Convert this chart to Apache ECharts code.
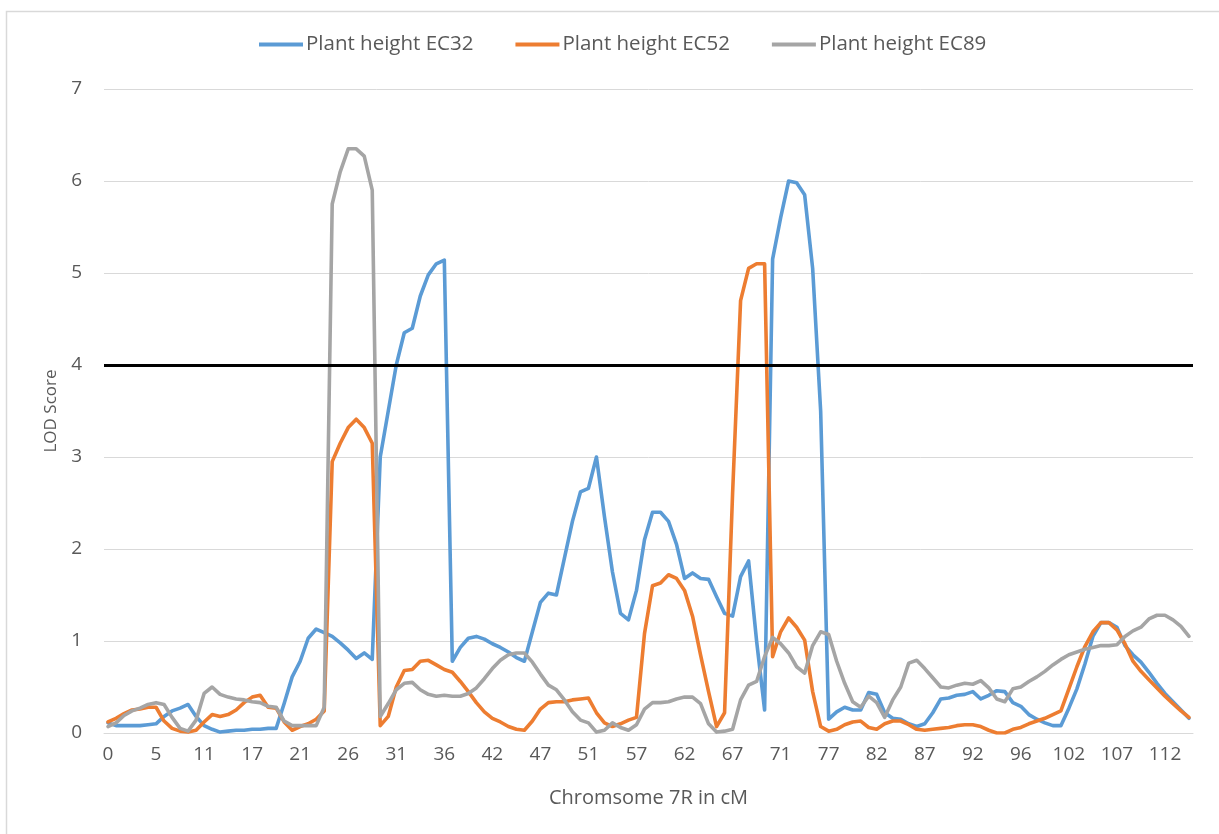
<!DOCTYPE html>
<html>
<head>
<meta charset="utf-8">
<script src="https://cdn.jsdelivr.net/npm/echarts@6/dist/echarts.min.js"></script>
<style>
html,body{margin:0;padding:0;background:#fff;}
#chart{width:1219px;height:834px;}
</style>
</head>
<body>
<div id="chart"></div>
<script>
// Category labels: marker positions on chromosome 7R (cM); every 6th is shown
const positions = [
  0,1,2,3,3,4,
  5,6,7,8,9,10,
  11,12,13,14,15,16,
  17,18,18,19,20,20,
  21,22,23,23,24,25,
  26,27,28,29,29,30,
  31,32,33,33,34,35,
  36,37,38,39,40,41,
  42,43,44,45,45,46,
  47,48,48,49,50,50,
  51,52,53,54,55,56,
  57,58,59,60,60,61,
  62,63,64,65,65,66,
  67,68,68,69,70,70,
  71,72,73,74,75,76,
  77,78,79,80,80,81,
  82,83,84,85,85,86,
  87,88,89,90,90,91,
  92,93,93,94,95,95,
  96,97,98,99,100,101,
  102,103,104,105,105,106,
  107,108,109,110,110,111,
  112,113,114,115
];

const ec32 = [
  0.11,0.08,0.08,0.08,0.08,0.09,
  0.10,0.18,0.24,0.27,0.31,0.18,
  0.08,0.04,0.01,0.02,0.03,0.03,
  0.04,0.04,0.05,0.05,0.32,0.61,
  0.78,1.03,1.13,1.09,1.05,0.98,
  0.90,0.81,0.87,0.80,3.00,3.50,
  4.00,4.35,4.40,4.75,4.98,5.10,
  5.14,0.78,0.93,1.03,1.05,1.02,
  0.97,0.93,0.88,0.82,0.78,1.10,
  1.42,1.52,1.50,1.90,2.30,2.62,
  2.66,3.00,2.35,1.75,1.30,1.23,
  1.55,2.10,2.40,2.40,2.30,2.05,
  1.68,1.74,1.68,1.67,1.48,1.30,
  1.27,1.70,1.87,1.00,0.25,5.15,
  5.60,6.00,5.98,5.85,5.05,3.50,
  0.15,0.23,0.28,0.25,0.25,0.44,
  0.42,0.22,0.16,0.15,0.10,0.07,
  0.10,0.22,0.37,0.38,0.41,0.42,
  0.45,0.37,0.41,0.46,0.45,0.33,
  0.29,0.20,0.15,0.11,0.08,0.08,
  0.27,0.48,0.75,1.05,1.20,1.20,
  1.15,0.95,0.85,0.77,0.66,0.54,
  0.43,0.34,0.25,0.16
];

const ec52 = [
  0.12,0.16,0.21,0.25,0.26,0.28,
  0.28,0.13,0.05,0.02,0.01,0.03,
  0.12,0.20,0.18,0.20,0.25,0.33,
  0.39,0.41,0.28,0.27,0.12,0.03,
  0.07,0.10,0.15,0.24,2.95,3.15,
  3.32,3.41,3.32,3.15,0.08,0.18,
  0.50,0.68,0.69,0.78,0.79,0.74,
  0.69,0.66,0.56,0.45,0.33,0.23,
  0.16,0.12,0.07,0.04,0.03,0.13,
  0.26,0.33,0.34,0.34,0.36,0.37,
  0.38,0.22,0.11,0.07,0.10,0.14,
  0.17,1.08,1.60,1.63,1.72,1.68,
  1.55,1.27,0.85,0.45,0.07,0.22,
  2.60,4.70,5.05,5.10,5.10,0.83,
  1.10,1.25,1.15,1.01,0.45,0.07,
  0.02,0.04,0.09,0.12,0.13,0.06,
  0.04,0.10,0.13,0.13,0.09,0.04,
  0.03,0.04,0.05,0.06,0.08,0.09,
  0.09,0.07,0.03,0.00,0.00,0.04,
  0.06,0.10,0.13,0.16,0.20,0.24,
  0.48,0.72,0.94,1.10,1.20,1.20,
  1.12,0.97,0.78,0.67,0.58,0.49,
  0.40,0.32,0.24,0.17
];

const ec89 = [
  0.07,0.11,0.19,0.24,0.27,0.31,
  0.33,0.31,0.17,0.05,0.02,0.14,
  0.43,0.50,0.42,0.39,0.37,0.36,
  0.34,0.33,0.29,0.28,0.13,0.08,
  0.08,0.08,0.08,0.28,5.75,6.10,
  6.35,6.35,6.27,5.90,0.18,0.32,
  0.47,0.54,0.55,0.47,0.42,0.40,
  0.41,0.40,0.40,0.43,0.49,0.59,
  0.70,0.79,0.85,0.87,0.87,0.77,
  0.64,0.52,0.47,0.36,0.23,0.14,
  0.11,0.01,0.03,0.11,0.06,0.03,
  0.09,0.26,0.33,0.33,0.34,0.37,
  0.39,0.39,0.32,0.10,0.01,0.02,
  0.04,0.36,0.52,0.56,0.83,1.04,
  0.97,0.87,0.72,0.65,0.95,1.10,
  1.07,0.78,0.54,0.34,0.28,0.40,
  0.33,0.17,0.36,0.50,0.76,0.79,
  0.70,0.60,0.50,0.49,0.52,0.54,
  0.53,0.57,0.49,0.37,0.34,0.48,
  0.50,0.56,0.61,0.67,0.74,0.80,
  0.85,0.88,0.91,0.93,0.95,0.95,
  0.96,1.05,1.11,1.15,1.24,1.28,
  1.28,1.23,1.16,1.05
];

const yTicks = [0,1,2,3,4,5,6,7];
const lodThreshold = 4;
const seriesNames = ['Plant height EC32','Plant height EC52','Plant height EC89'];
const colors = ['#5B9BD5','#ED7D31','#A5A5A5'];

const FONT = '"Open Sans", "Noto Sans", sans-serif';
const chart = echarts.init(document.getElementById('chart'), null, {renderer:'canvas'});

const mkSeries = (name, data, color, extra) => Object.assign({
  name, type:'line', data, showSymbol:false, symbol:'none',
  lineStyle:{color, width:3.6, join:'round', cap:'round'},
  itemStyle:{color}, smooth:false, animation:false
}, extra || {});

chart.setOption({
  animation:false,
  backgroundColor:'#ffffff',
  graphic:[{
    type:'rect', left:4, top:9, shape:{width:1240, height:860},
    style:{fill:'none', stroke:'#d9d9d9', lineWidth:1.5}, silent:true, z:-10
  }],
  legend:{
    top:29, left:254,
    itemWidth:44, itemHeight:4, itemGap:42,
    icon:'rect',
    textStyle:{fontFamily:FONT, fontSize:20.5, color:'#595959', padding:[0,0,0,-2]},
    data:seriesNames
  },
  grid:{left:104, right:26, top:89, bottom:101, containLabel:false},
  xAxis:{
    type:'category', data:positions, boundaryGap:true,
    axisLine:{show:true, lineStyle:{color:'#d9d9d9', width:1}},
    axisTick:{show:false},
    axisLabel:{interval:5, color:'#595959', fontFamily:FONT, fontSize:19, margin:12},
    splitLine:{show:false},
    name:'Chromsome 7R in cM', nameLocation:'middle', nameGap:55,
    nameTextStyle:{fontFamily:FONT, fontSize:20, color:'#595959'}
  },
  yAxis:{
    type:'value', min:yTicks[0], max:yTicks[yTicks.length-1], interval:1,
    axisLine:{show:false}, axisTick:{show:false},
    axisLabel:{color:'#595959', fontFamily:FONT, fontSize:19, margin:22},
    splitLine:{lineStyle:{color:'#d9d9d9', width:1}},
    name:'LOD Score', nameLocation:'middle', nameGap:44,
    nameTextStyle:{fontFamily:FONT, fontSize:17, color:'#595959'}
  },
  series:[
    mkSeries(seriesNames[0], ec32, colors[0]),
    mkSeries(seriesNames[1], ec52, colors[1]),
    mkSeries(seriesNames[2], ec89, colors[2], {
      markLine:{
        silent:true, symbol:['none','none'],
        label:{show:false},
        lineStyle:{color:'#000000', width:3, type:'solid'},
        data:[{yAxis:lodThreshold}]
      }
    })
  ]
});
</script>
</body>
</html>
